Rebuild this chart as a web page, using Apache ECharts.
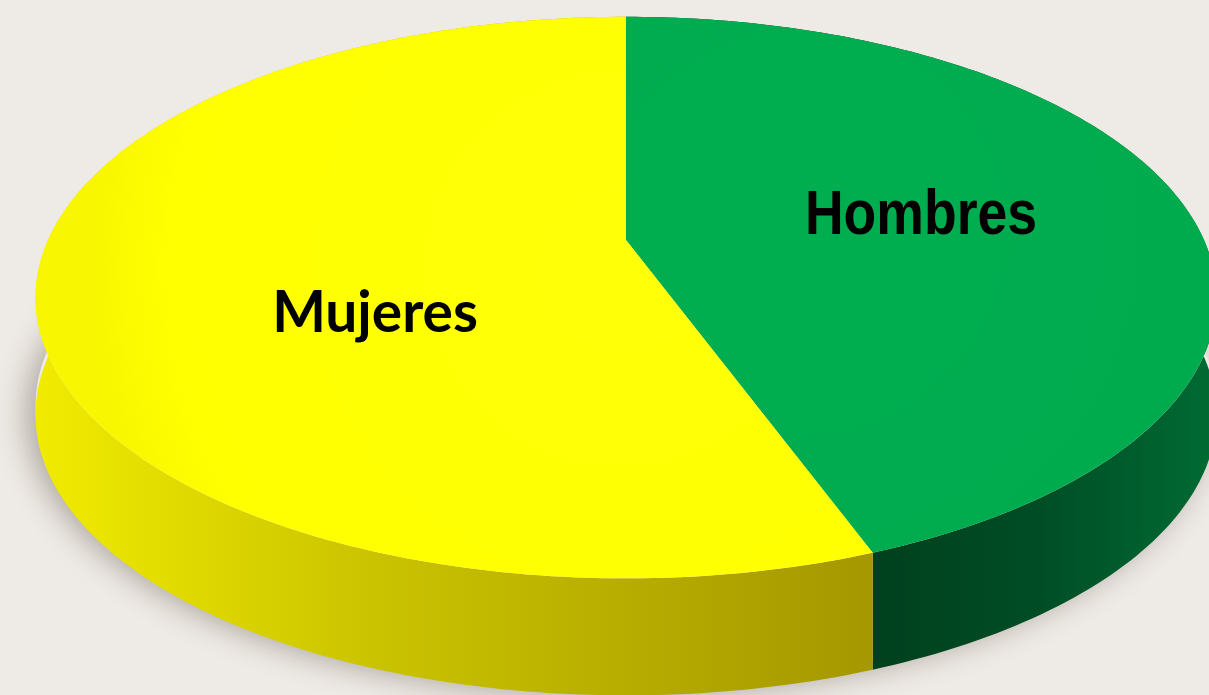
<!DOCTYPE html>
<html>
<head>
<meta charset="utf-8">
<script src="https://cdn.jsdelivr.net/npm/echarts@6/dist/echarts.min.js"></script>
<style>
  html, body { margin: 0; padding: 0; background: #EEEAE5; }
  #chart { width: 1209px; height: 695px; }
</style>
</head>
<body>
<div id="chart"></div>
<script>
// datos del gráfico
const categories = ['Hombres', 'Mujeres']
const values = [44.4, 55.6]

// vista en perspectiva del disco (solo maquetación)
const VIEW = { cx: 626, cy: 240, rx: 578, ry: 269, k: 0.205, depth: 117 }
const BG = '#EEEAE5'

const TOP_FILL = {
  Hombres: { type: 'radial', x: 0.3, y: 0.4, r: 0.95, colorStops: [
    { offset: 0, color: '#00AE50' }, { offset: 0.8, color: '#00AB4E' }, { offset: 1, color: '#00A149' }] },
  Mujeres: { type: 'radial', x: 0.7, y: 0.45, r: 0.95, colorStops: [
    { offset: 0, color: '#FFFF08' }, { offset: 0.85, color: '#FFFF00' }, { offset: 1, color: '#F8F600' }] }
}
const SIDE_FILL = {
  Hombres: { type: 'linear', x: 865, y: 0, x2: 1209, y2: 0, global: true, colorStops: [
    { offset: 0, color: '#003F1D' }, { offset: 0.5, color: '#004D25' }, { offset: 1, color: '#006A33' }] },
  Mujeres: { type: 'linear', x: 30, y: 0, x2: 865, y2: 0, global: true, colorStops: [
    { offset: 0, color: '#F2EC00' }, { offset: 0.4, color: '#CBC400' }, { offset: 1, color: '#A59800' }] }
}
const LABEL = {
  Hombres: { x: 921, y: 217, font: 'Arial, "Liberation Sans", sans-serif', size: 63, scaleX: 0.85 },
  Mujeres: { x: 375, y: 313, font: 'Lato, "Open Sans", sans-serif', size: 58, scaleX: 0.98 }
}

const total = values.reduce((s, v) => s + v, 0)
const starts = []
values.reduce((acc, v) => { starts.push(acc / total * 360); return acc + v }, 0)

const project = (deg, r, drop) => {
  const t = deg * Math.PI / 180
  const X = r * Math.sin(t), Y = r * Math.cos(t)
  const w = 1 + VIEW.k * Y
  return [VIEW.cx + VIEW.rx * X / w, VIEW.cy - VIEW.ry * Y / w + (drop || 0)]
}

const arc = (a0, a1, drop) => {
  const pts = []
  for (let a = a0; a < a1; a += 1) pts.push(project(a, 1, drop))
  pts.push(project(a1, 1, drop))
  return pts
}

const renderItem = (params, api) => {
  const i = params.dataIndex
  const name = categories[i]
  const a0 = starts[i]
  const a1 = a0 + api.value(0) / total * 360
  const rim = arc(a0, a1, 0)
  const low = arc(a0, a1, VIEW.depth).reverse()
  const children = []

  if (i === 0) {
    // sombra bajo el disco
    children.push({
      type: 'polygon', z2: 0, silent: true,
      shape: { points: arc(0, 360, VIEW.depth - 8) },
      style: { fill: BG, shadowBlur: 30, shadowColor: 'rgba(70,60,50,0.4)', shadowOffsetX: -8, shadowOffsetY: 8 }
    })
  }
  children.push({
    type: 'polygon', z2: 1,
    shape: { points: rim.concat(low) },
    style: { fill: SIDE_FILL[name] }
  })
  children.push({
    type: 'polygon', z2: 2,
    shape: { points: [project(0, 0, 0)].concat(rim) },
    style: { fill: TOP_FILL[name] }
  })
  children.push({
    type: 'text', z2: 3,
    x: LABEL[name].x, y: LABEL[name].y, scaleX: LABEL[name].scaleX,
    style: {
      text: name, x: 0, y: 0,
      fontFamily: LABEL[name].font, fontSize: LABEL[name].size, fontWeight: 'bold',
      fill: '#000', align: 'center', verticalAlign: 'middle'
    }
  })
  return { type: 'group', children }
}

const chart = echarts.init(document.getElementById('chart'))
chart.setOption({
  backgroundColor: BG,
  animation: false,
  series: [{
    type: 'custom',
    coordinateSystem: 'none',
    renderItem,
    data: values.map((v, i) => ({ name: categories[i], value: [v] }))
  }]
})
window.addEventListener('resize', () => chart.resize())
</script>
</body>
</html>
